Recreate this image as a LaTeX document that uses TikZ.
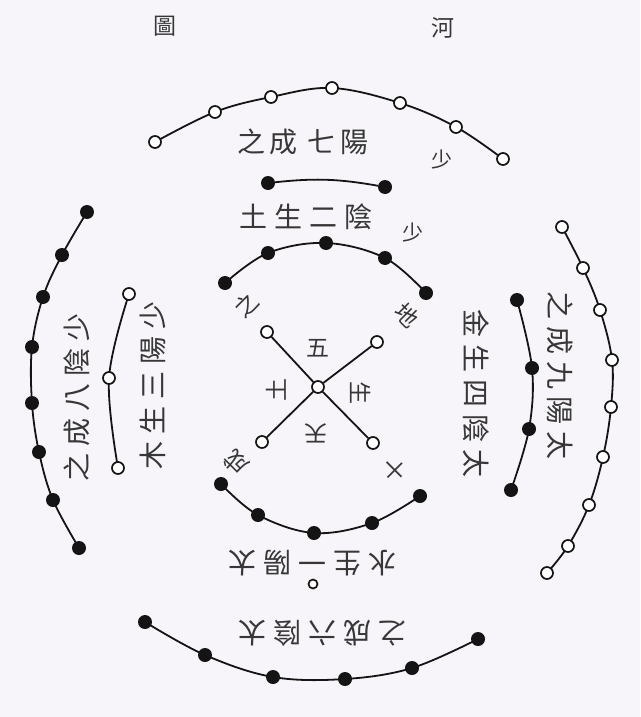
\documentclass[tikz,border=0pt]{standalone}
\usepackage{fontspec}
\newfontfamily\cjk{Noto Sans CJK TC}
\usetikzlibrary{backgrounds}
\definecolor{bg}{HTML}{F7F5F9}
\definecolor{ink}{HTML}{141414}
\newcommand{\kk}{\kern7pt}
\begin{document}
\begin{tikzpicture}[x=1pt,y=-1pt,
  bd/.style={circle,fill=ink,inner sep=0pt,minimum size=14pt},
  wd/.style={circle,draw=ink,line width=1.7pt,fill=white,inner sep=0pt,minimum size=12pt},
  chain/.style={draw=ink,line width=1.8pt},
  lab/.style={font=\cjk\fontsize{28}{28}\selectfont,text=ink!85,inner sep=0pt},
  sml/.style={font=\cjk\fontsize{23}{23}\selectfont,text=ink!85,inner sep=0pt}]
\begin{scope}[on background layer]
\fill[bg] (0,0) rectangle (640,717);
\end{scope}
\useasboundingbox (0,0) rectangle (640,717);
% title
\node[sml] (ttl1) at (165,26) {圖};
\node[sml] (ttl2) at (443,28) {河};
% top outer: 7 white
\foreach \x/\y [count=\i] in {155/142,215/112,271/97,332/88,400/103,456/127,503/159}
  \node[wd] (a\i) at (\x,\y) {};
% top inner: 2 black
\node[bd] (b1) at (268,183) {};
\node[bd] (b2) at (385,187) {};
% upper arc: 5 black
\foreach \x/\y [count=\i] in {225/283,268/253,326/243,385/258,426/293}
  \node[bd] (c\i) at (\x,\y) {};
% lower arc: 5 black
\foreach \x/\y [count=\i] in {221/484,258/515,314/533,372/523,420/496}
  \node[bd] (d\i) at (\x,\y) {};
% bottom outer: 6 black
\foreach \x/\y [count=\i] in {145/622,205/655,273/677,345/679,412/668,478/639}
  \node[bd] (e\i) at (\x,\y) {};
% left outer: 8 black
\foreach \x/\y [count=\i] in {87/212,62/255,43/297,32/347,32/403,39/452,53/500,79/548}
  \node[bd] (f\i) at (\x,\y) {};
% left inner: 3 white
\foreach \x/\y [count=\i] in {129/294,109/378,118/468}
  \node[wd] (g\i) at (\x,\y) {};
% right outer: 9 white
\foreach \x/\y [count=\i] in {562/227,583/268,600/310,612/360,611/407,603/457,589/505,568/546,547/573}
  \node[wd] (h\i) at (\x,\y) {};
% right inner: 4 black
\foreach \x/\y [count=\i] in {517/300,532/368,529/429,511/490}
  \node[bd] (k\i) at (\x,\y) {};
% bottom single white
\node[wd,minimum size=9pt] (m1) at (313,584) {};
% cross
\node[wd] (x0) at (318,387) {};
\node[wd] (x1) at (267,332) {};
\node[wd] (x2) at (377,342) {};
\node[wd] (x3) at (262,442) {};
\node[wd] (x4) at (373,443) {};
\begin{scope}[on background layer]
\draw[chain] plot[smooth,tension=0.6] coordinates {(a1)(a2)(a3)(a4)(a5)(a6)(a7)};
\draw[chain] (b1) to[bend left=8] (b2);
\draw[chain] plot[smooth,tension=0.6] coordinates {(c1)(c2)(c3)(c4)(c5)};
\draw[chain] plot[smooth,tension=0.6] coordinates {(d1)(d2)(d3)(d4)(d5)};
\draw[chain] plot[smooth,tension=0.6] coordinates {(e1)(e2)(e3)(e4)(e5)(e6)};
\draw[chain] plot[smooth,tension=0.6] coordinates {(f1)(f2)(f3)(f4)(f5)(f6)(f7)(f8)};
\draw[chain] plot[smooth,tension=0.6] coordinates {(g1)(g2)(g3)};
\draw[chain] plot[smooth,tension=0.6] coordinates {(h1)(h2)(h3)(h4)(h5)(h6)(h7)(h8)(h9)};
\draw[chain] plot[smooth,tension=0.6] coordinates {(k1)(k2)(k3)(k4)};
\draw[chain] (x0) -- (x1);
\draw[chain] (x0) -- (x2);
\draw[chain] (x0) -- (x3);
\draw[chain] (x0) -- (x4);
\end{scope}
% labels
\node[lab] (l7) at (303,142) {之\kern5pt 成\kern10pt 七\kern5pt 陽};
\node[sml,font=\cjk\fontsize{21}{21}\selectfont] (s7) at (442,160) {少};
\node[lab] (l2) at (306,217) {土\kk 生\kk 二\kk 陰};
\node[sml,font=\cjk\fontsize{21}{21}\selectfont] (s2) at (413,233) {少};
\node[lab,rotate=180] (l1) at (312,563) {水\kk 生\kk 一\kk 陽\kk 太};
\node[lab,rotate=180] (l6) at (322,633) {之\kk 成\kk 六\kk 陰\kk 太};
\node[lab,rotate=90] (l8) at (77,397) {之\kk 成\kk 八\kk 陰\kk 少};
\node[lab,rotate=90] (l3) at (153,385) {木\kk 生\kk 三\kk 陽\kk 少};
\node[lab,rotate=-90] (l9) at (560,375) {之\kk 成\kk 九\kk 陽\kk 太};
\node[lab,rotate=-90] (l4) at (476,393) {金\kk 生\kk 四\kk 陰\kk 太};
% around cross
\node[sml,rotate=45] (q1) at (246,305) {之};
\node[sml,rotate=-45] (q2) at (407,315) {地};
\node[sml,rotate=135] (q3) at (236,462) {成};
\node[sml,rotate=-135] (q4) at (395,470) {十};
% inside cross
\node[sml] (p1) at (318,348) {五};
\node[sml,rotate=-90] (p2) at (361,393) {生};
\node[sml,rotate=180] (p3) at (316,433) {天};
\node[sml,rotate=90] (p4) at (276,390) {土};
\end{tikzpicture}
\end{document}
